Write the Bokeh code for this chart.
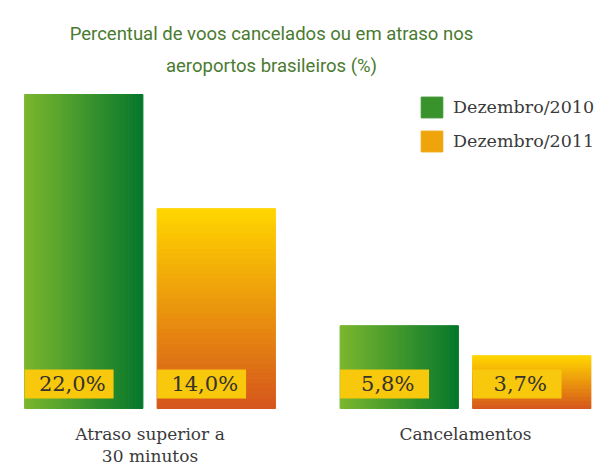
from bokeh.plotting import figure
from bokeh.models import ColumnDataSource, Range1d, Legend, LegendItem, Label
from bokeh.embed import file_html
from bokeh.resources import INLINE

# ---- data ----
title_lines = ["Percentual de voos cancelados ou em atraso nos",
               "aeroportos brasileiros (%)"]
categories = ["Atraso superior a\n30 minutos", "Cancelamentos"]
series_names = ["Dezembro/2010", "Dezembro/2011"]
dez_2010 = [22.0, 5.8]
dez_2011 = [14.0, 3.7]


def fmt(v):
    return f"{v:.1f}%".replace(".", ",")


def hex2rgb(h):
    h = h.lstrip("#")
    return tuple(int(h[i:i + 2], 16) for i in (0, 2, 4))


def lerp(c1, c2, t):
    a, b = hex2rgb(c1), hex2rgb(c2)
    return "#%02x%02x%02x" % tuple(round(a[i] + (b[i] - a[i]) * t) for i in range(3))


BAR_W = 0.375
OFFSET = 0.21
N = 40
BOX_W = 0.282
BOX_Y0, BOX_Y1 = 0.70, 2.73
CAT_Y = -1.10

p = figure(width=594, height=464,
           x_range=Range1d(-0.4739, 1.4089), y_range=Range1d(-3.9236, 28.586),
           output_backend="svg", toolbar_location=None,
           x_axis_location=None, y_axis_location=None,
           min_border_left=0, min_border_right=0, min_border_top=0, min_border_bottom=0)
p.outline_line_color = None
p.xgrid.visible = False
p.ygrid.visible = False
p.background_fill_color = "white"
p.border_fill_color = "white"

# green bars: horizontal gradient strips
g = dict(left=[], right=[], bottom=[], top=[], color=[])
for i, v in enumerate(dez_2010):
    x0 = i - OFFSET - BAR_W / 2
    for k in range(N):
        t = k / (N - 1)
        g["left"].append(x0 + BAR_W * k / N)
        g["right"].append(x0 + BAR_W * (k + 1) / N)
        g["bottom"].append(0)
        g["top"].append(v)
        g["color"].append(lerp("#7ab62e", "#07782b", t))
r_g = p.quad(left="left", right="right", bottom="bottom", top="top",
             fill_color="color", line_color="color", line_width=1,
             source=ColumnDataSource(g))

# orange bars: vertical gradient strips
o = dict(left=[], right=[], bottom=[], top=[], color=[])
for i, v in enumerate(dez_2011):
    x0 = i + OFFSET - BAR_W / 2
    for k in range(N):
        t = k / (N - 1)
        o["left"].append(x0)
        o["right"].append(x0 + BAR_W)
        o["bottom"].append(v * k / N)
        o["top"].append(v * (k + 1) / N)
        o["color"].append(lerp("#d6571c", "#ffd400", t))
r_o = p.quad(left="left", right="right", bottom="bottom", top="top",
             fill_color="color", line_color="color", line_width=1,
             source=ColumnDataSource(o))

# value label boxes
lb = dict(left=[], right=[], bottom=[], top=[], x=[], y=[], text=[])
for i in range(len(categories)):
    for off, vals in ((-OFFSET, dez_2010), (OFFSET, dez_2011)):
        x0 = i + off - BAR_W / 2
        lb["left"].append(x0)
        lb["right"].append(x0 + BOX_W)
        lb["bottom"].append(BOX_Y0)
        lb["top"].append(BOX_Y1)
        lb["x"].append(x0 + BOX_W / 2 + 0.01)
        lb["y"].append((BOX_Y0 + BOX_Y1) / 2)
        lb["text"].append(fmt(vals[i]))
src_lb = ColumnDataSource(lb)
p.quad(left="left", right="right", bottom="bottom", top="top",
       fill_color="#f8c80c", line_color=None, source=src_lb)
p.text(x="x", y="y", text="text", source=src_lb, text_align="center",
       text_baseline="middle", text_font_size="21px", text_color="#36322c",
       text_font={"value": "DejaVu Serif"})

# category labels
cat_src = ColumnDataSource(dict(x=list(range(len(categories))),
                                y=[CAT_Y] * len(categories), text=categories))
p.text(x="x", y="y", text="text", source=cat_src, text_align="center",
       text_baseline="top", text_font_size="17px", text_color="#3a3a3a",
       text_line_height=1.1, text_font={"value": "DejaVu Serif"})

# legend
legend = Legend(items=[LegendItem(label=series_names[0], renderers=[r_g], index=22),
                       LegendItem(label=series_names[1], renderers=[r_o], index=24)],
                location=(418, 310), glyph_width=27, glyph_height=26,
                label_standoff=8, spacing=8, padding=0, margin=0,
                border_line_color=None, background_fill_alpha=0,
                label_text_font="DejaVu Serif", label_text_font_size="17.5px",
                label_text_color="#3a3a3a")
p.add_layout(legend)

# title
for text, y in zip(title_lines, (431, 399)):
    p.add_layout(Label(x=271, y=y, x_units="screen", y_units="screen", text=text,
                       text_align="center", text_baseline="alphabetic",
                       text_font="Roboto", text_font_size="18.5px",
                       text_color="#4a7a30"))

open("out.html", "w").write(file_html(p, INLINE))
